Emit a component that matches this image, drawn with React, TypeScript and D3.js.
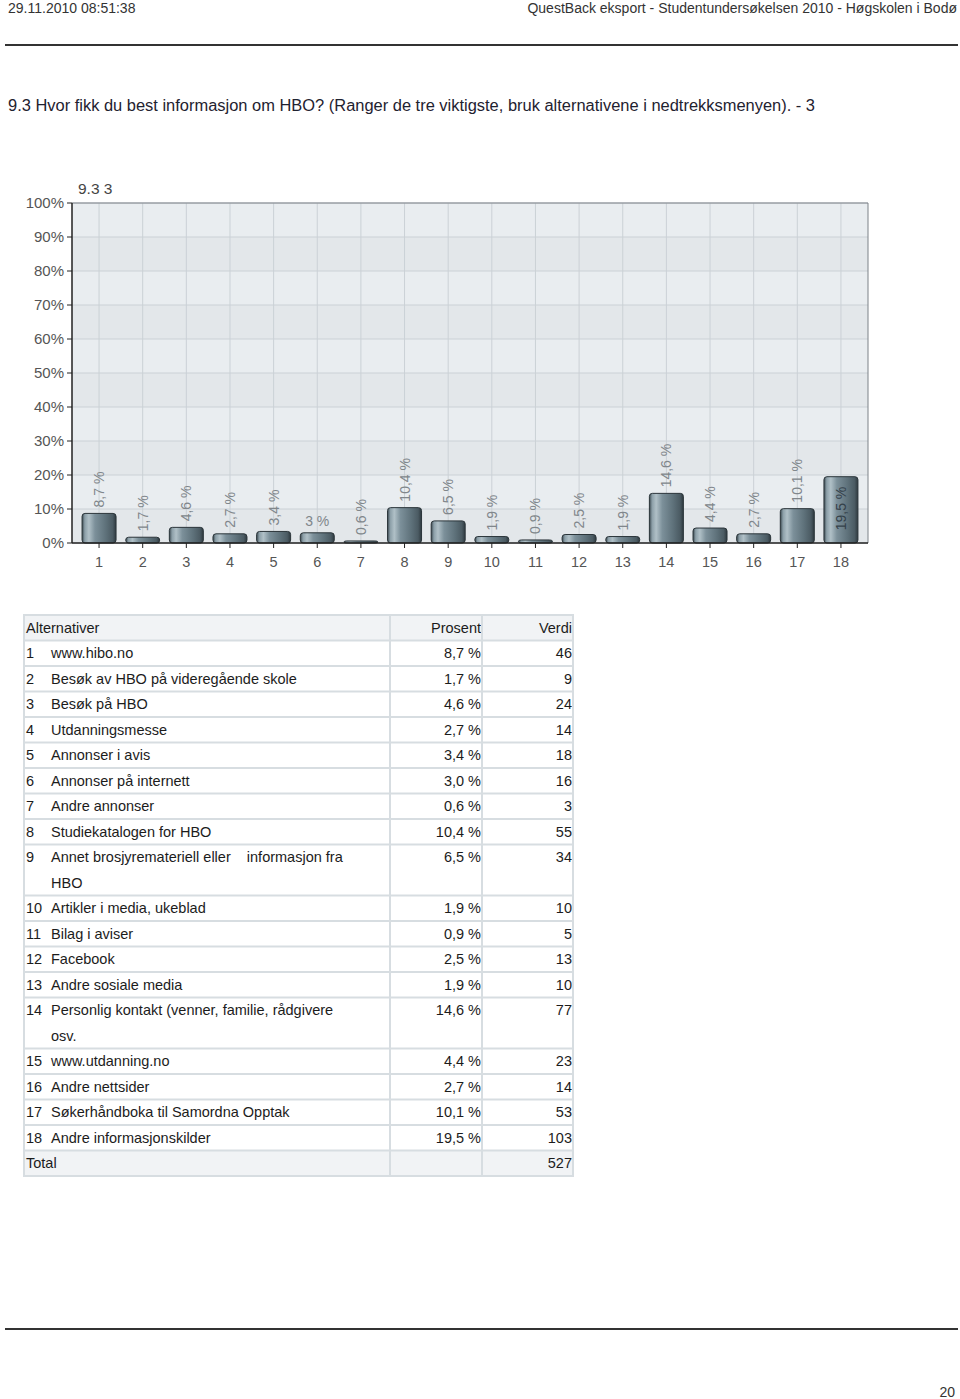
import React from 'react';
import * as d3 from 'd3';

const categories = ['1', '2', '3', '4', '5', '6', '7', '8', '9', '10', '11', '12', '13', '14', '15', '16', '17', '18'];
const percents = [8.7, 1.7, 4.6, 2.7, 3.4, 3.0, 0.6, 10.4, 6.5, 1.9, 0.9, 2.5, 1.9, 14.6, 4.4, 2.7, 10.1, 19.5];
const counts = [46, 9, 24, 14, 18, 16, 3, 55, 34, 10, 5, 13, 10, 77, 23, 14, 53, 103];
const barLabels = ['8,7 %', '1,7 %', '4,6 %', '2,7 %', '3,4 %', '3 %', '0,6 %', '10,4 %', '6,5 %', '1,9 %', '0,9 %', '2,5 %', '1,9 %', '14,6 %', '4,4 %', '2,7 %', '10,1 %', '19,5 %'];
const alternatives = [
  'www.hibo.no',
  'Besøk av HBO på videregående skole',
  'Besøk på HBO',
  'Utdanningsmesse',
  'Annonser i avis',
  'Annonser på internett',
  'Andre annonser',
  'Studiekatalogen for HBO',
  'Annet brosjyremateriell eller    informasjon fra\nHBO',
  'Artikler i media, ukeblad',
  'Bilag i aviser',
  'Facebook',
  'Andre sosiale media',
  'Personlig kontakt (venner, familie, rådgivere\nosv.',
  'www.utdanning.no',
  'Andre nettsider',
  'Søkerhåndboka til Samordna Opptak',
  'Andre informasjonskilder',
];
const yTicks = [0, 10, 20, 30, 40, 50, 60, 70, 80, 90, 100];
const total = 527;

const FONT = '"Liberation Sans", Arial, sans-serif';

const plot = { left: 72, right: 868, top: 203, bottom: 543 };

const BarChart = () => {
  const x = d3.scalePoint<string>().domain(categories).range([plot.left, plot.right]).padding(0.62);
  const y = d3.scaleLinear().domain([0, 100]).range([plot.bottom, plot.top]);
  const barW = 34;
  const bands = d3.range(0, 100, 10);

  return (
    <g>
      <defs>
        <linearGradient id="barGrad" x1="0" x2="1" y1="0" y2="0">
          <stop offset="0" stopColor="#3b4950" />
          <stop offset="0.08" stopColor="#8c9fa8" />
          <stop offset="0.2" stopColor="#b0c0c7" />
          <stop offset="0.38" stopColor="#7c909a" />
          <stop offset="0.7" stopColor="#5e717a" />
          <stop offset="0.9" stopColor="#4b5b63" />
          <stop offset="1" stopColor="#2e393f" />
        </linearGradient>
      </defs>
      <text x={78} y={194} fontFamily={FONT} fontSize={15.5} fill="#444">9.3 3</text>
      {bands.map((b, i) => (
        <rect key={b} x={plot.left} y={y(b + 10)} width={plot.right - plot.left} height={y(b) - y(b + 10)}
          fill={i % 2 === 0 ? '#e3e7ea' : '#e9edf0'} />
      ))}
      {yTicks.map(t => (
        <line key={t} x1={plot.left} x2={plot.right} y1={y(t)} y2={y(t)} stroke="#cbd1d6" strokeWidth={1} />
      ))}
      {categories.map(c => (
        <line key={c} x1={x(c)} x2={x(c)} y1={plot.top} y2={plot.bottom} stroke="#cbd1d6" strokeWidth={1} />
      ))}
      <line x1={plot.left} x2={plot.right} y1={plot.top} y2={plot.top} stroke="#7c8288" strokeWidth={1} />
      <line x1={plot.right} x2={plot.right} y1={plot.top} y2={plot.bottom} stroke="#7c8288" strokeWidth={1} />
      {yTicks.map(t => (
        <g key={t}>
          <line x1={plot.left - 5} x2={plot.left} y1={y(t)} y2={y(t)} stroke="#222" />
          <text x={64} y={y(t)} dy="0.35em" textAnchor="end" fontFamily={FONT} fontSize={15} fill="#555">{t}%</text>
        </g>
      ))}
      {categories.map((c, i) => {
        const cx = x(c) as number;
        const top = y(percents[i]);
        const lbl = barLabels[i];
        const inside = percents[i] > 15;
        const horizontal = lbl.length <= 3;
        return (
          <g key={c}>
            <rect x={cx - barW / 2} y={top} width={barW} height={plot.bottom - top} rx={3}
              fill="url(#barGrad)" stroke="#2b353a" strokeWidth={1} />
            {horizontal ? (
              <text x={cx} y={top - 7} textAnchor="middle" fontFamily={FONT} fontSize={14} fill="#80868b">{lbl}</text>
            ) : inside ? (
              <text transform={`translate(${cx},${top + 10}) rotate(-90)`} textAnchor="end" dominantBaseline="central"
                fontFamily={FONT} fontSize={14} fill="#34414a">{lbl}</text>
            ) : (
              <text transform={`translate(${cx},${top - 6}) rotate(-90)`} textAnchor="start" dominantBaseline="central"
                fontFamily={FONT} fontSize={14} fill="#80868b">{lbl}</text>
            )}
            <line x1={cx} x2={cx} y1={plot.bottom} y2={plot.bottom + 5} stroke="#222" />
            <text x={cx} y={567} textAnchor="middle" fontFamily={FONT} fontSize={14.5} fill="#555">{c}</text>
          </g>
        );
      })}
      <line x1={plot.left} x2={plot.left} y1={plot.top} y2={plot.bottom} stroke="#222" strokeWidth={1.5} />
      <line x1={plot.left} x2={plot.right} y1={plot.bottom} y2={plot.bottom} stroke="#222" strokeWidth={1.5} />
    </g>
  );
};

const Table = () => {
  const left = 24, c1 = 390, c2 = 482, right = 573;
  const lineH = 25.5;
  const top = 615;
  const fs = 14.5;
  const border = '#d7dde1';

  // build row blocks
  let cursor = top;
  const rows: { y0: number; lines: string[]; num?: string; pct?: string; val: string; shade?: boolean }[] = [];
  rows.push({ y0: cursor, lines: ['Alternativer'], pct: 'Prosent', val: 'Verdi', shade: true });
  cursor += lineH;
  alternatives.forEach((a, i) => {
    const lines = a.split('\n');
    rows.push({ y0: cursor, lines, num: String(i + 1), pct: `${percents[i].toFixed(1).replace('.', ',')} %`, val: String(counts[i]) });
    cursor += lineH * lines.length;
  });
  rows.push({ y0: cursor, lines: ['Total'], val: String(total), shade: true });
  cursor += lineH;
  const bottom = cursor;

  return (
    <g fontFamily={FONT} fontSize={fs} fill="#1c1c1c">
      {rows.map((r, i) => {
        const h = r.lines.length * lineH;
        return (
          <g key={i}>
            {r.shade && <rect x={left} y={r.y0} width={right - left} height={h} fill="#f1f3f5" />}
            {r.lines.map((ln, j) => (
              <text key={j} x={r.num ? 51 : 26} y={r.y0 + lineH * j + lineH / 2} dy="0.35em" style={{ whiteSpace: 'pre' }}>{ln}</text>
            ))}
            {r.num && <text x={26} y={r.y0 + lineH / 2} dy="0.35em">{r.num}</text>}
            {r.pct && <text x={481} y={r.y0 + lineH / 2} dy="0.35em" textAnchor="end">{r.pct}</text>}
            <text x={572} y={r.y0 + lineH / 2} dy="0.35em" textAnchor="end">{r.val}</text>
            {i > 0 && <line x1={left} x2={right} y1={r.y0} y2={r.y0} stroke={border} strokeWidth={2} />}
          </g>
        );
      })}
      <rect x={left} y={top} width={right - left} height={bottom - top} fill="none" stroke={border} strokeWidth={2} />
      <line x1={c1} x2={c1} y1={top} y2={bottom} stroke={border} strokeWidth={2} />
      <line x1={c2} x2={c2} y1={top} y2={bottom} stroke={border} strokeWidth={2} />
    </g>
  );
};

export default function App() {
  return (
    <div style={{ position: 'absolute', left: 0, top: 0 }}>
      <svg width={960} height={1399} style={{ display: 'block', background: '#fff' }}>
        <text x={8} y={13} fontFamily={FONT} fontSize={14} fill="#333">29.11.2010 08:51:38</text>
        <text x={957} y={13} textAnchor="end" fontFamily={FONT} fontSize={14} fill="#333">
          QuestBack eksport - Studentundersøkelsen 2010 - Høgskolen i Bodø
        </text>
        <line x1={5} x2={958} y1={45} y2={45} stroke="#333" strokeWidth={2} />
        <text x={8} y={111} fontFamily={FONT} fontSize={16} fill="#1f2230" textLength={807} lengthAdjust="spacingAndGlyphs">
          9.3 Hvor fikk du best informasjon om HBO? (Ranger de tre viktigste, bruk alternativene i nedtrekksmenyen). - 3
        </text>
        <BarChart />
        <Table />
        <line x1={5} x2={958} y1={1329} y2={1329} stroke="#333" strokeWidth={2} />
        <text x={955} y={1397} textAnchor="end" fontFamily={FONT} fontSize={14} fill="#333">20</text>
      </svg>
    </div>
  );
}
